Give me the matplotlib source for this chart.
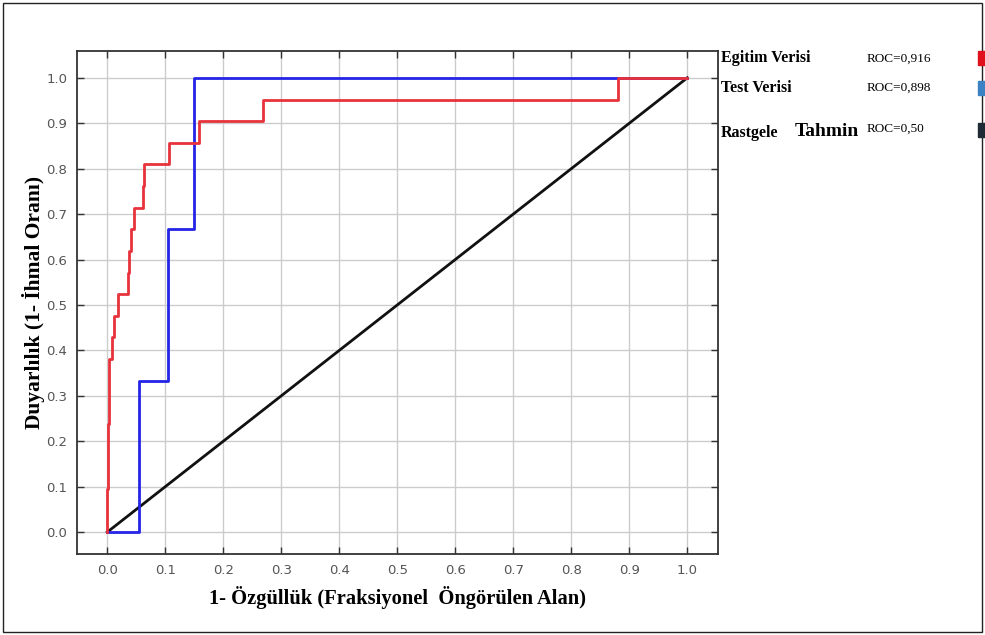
import matplotlib
matplotlib.use('Agg')
import matplotlib.pyplot as plt
from matplotlib.patches import Rectangle
import numpy as np

# Egitim verisi (kirmizi) - ROC koseleri
egitim_fpr = [0, 0, 0.002, 0.002, 0.003, 0.003, 0.009, 0.009, 0.012, 0.012,
              0.018, 0.018, 0.036, 0.036, 0.038, 0.038, 0.041, 0.041, 0.047, 0.047,
              0.062, 0.062, 0.064, 0.064, 0.107, 0.107, 0.158, 0.158, 0.269, 0.269,
              0.881, 0.881, 1.0]
egitim_tpr = [0, 0.095, 0.095, 0.238, 0.238, 0.381, 0.381, 0.429, 0.429, 0.476,
              0.476, 0.524, 0.524, 0.571, 0.571, 0.619, 0.619, 0.667, 0.667, 0.714,
              0.714, 0.762, 0.762, 0.810, 0.810, 0.857, 0.857, 0.905, 0.905, 0.952,
              0.952, 1.0, 1.0]

# Test verisi (mavi)
test_fpr = [0, 0.055, 0.055, 0.104, 0.104, 0.149, 0.149, 1.0]
test_tpr = [0, 0, 0.333, 0.333, 0.667, 0.667, 1.0, 1.0]

# Rastgele tahmin
rast_fpr = [0, 1]
rast_tpr = [0, 1]

ticks = np.round(np.arange(0, 1.01, 0.1), 1)
tick_labels = ['%.1f' % t for t in ticks]

fig = plt.figure(figsize=(9.85, 6.35), dpi=100)
ax = fig.add_axes([0.0782, 0.1276, 0.6508, 0.7921])

ax.plot(rast_fpr, rast_tpr, color='#111111', lw=2.0, zorder=3)
ax.plot(test_fpr, test_tpr, color='#2424e6', lw=2.0, zorder=4)
ax.plot(egitim_fpr, egitim_tpr, color='#e8323c', lw=2.0, zorder=5)

ax.set_xlim(-0.052, 1.053)
ax.set_ylim(-0.048, 1.059)
ax.set_xticks(ticks)
ax.set_yticks(ticks)
ax.set_xticklabels(tick_labels)
ax.set_yticklabels(tick_labels)
ax.grid(True, color='#cccccc', lw=1.0, zorder=0)
ax.tick_params(direction='in', length=5, width=1, top=True, right=True,
               labelsize=9.5, labelcolor='#555555', color='#333333', pad=7)
for s in ax.spines.values():
    s.set_linewidth(1.3)
    s.set_color('#333333')

ax.set_xlabel('1- Özgüllük (Fraksiyonel  Öngörülen Alan)', family='Liberation Serif',
              fontweight='bold', fontsize=14.8, labelpad=7)
ax.set_ylabel('Duyarlılık (1- İhmal Oranı)', family='Liberation Serif',
              fontweight='bold', fontsize=15.5, labelpad=1)

# lejant metinleri
fig.text(0.732, 0.908, 'Egitim Verisi', family='Liberation Serif', fontweight='bold', fontsize=11.5, va='center')
fig.text(0.880, 0.907, 'ROC=0,916', family='Liberation Serif', fontsize=9.5, va='center')
fig.text(0.732, 0.861, 'Test Verisi', family='Liberation Serif', fontweight='bold', fontsize=11.5, va='center')
fig.text(0.880, 0.862, 'ROC=0,898', family='Liberation Serif', fontsize=9.5, va='center')
fig.text(0.732, 0.790, 'Rastgele', family='Liberation Serif', fontweight='bold', fontsize=11.5, va='center')
fig.text(0.807, 0.793, 'Tahmin', family='Liberation Serif', fontweight='bold', fontsize=14, va='center')
fig.text(0.880, 0.797, 'ROC=0,50', family='Liberation Serif', fontsize=9.5, va='center')

for yy, c in [(0.897, '#e0101c'), (0.851, '#3a82c4'), (0.785, '#1e2a36')]:
    fig.patches.append(Rectangle((0.993, yy), 0.01, 0.022, transform=fig.transFigure,
                                 color=c, zorder=5))

# dis cerceve
fig.patches.append(Rectangle((0.003, 0.004), 0.994, 0.992, transform=fig.transFigure,
                             fill=False, edgecolor='#222222', lw=1.0))

plt.savefig('out.png', dpi=100)
